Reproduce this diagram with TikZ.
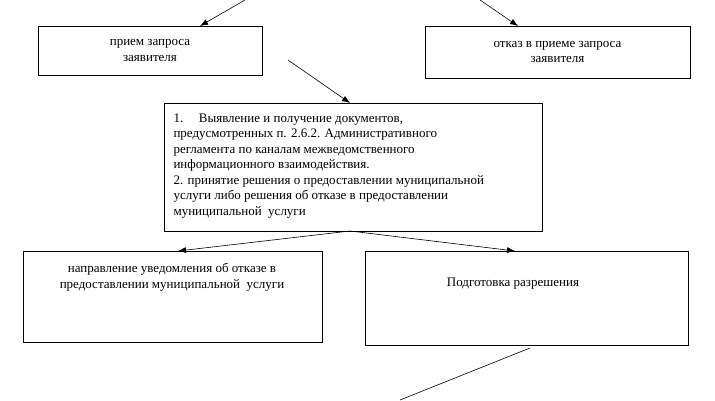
\documentclass[tikz,border=0pt]{standalone}
\usepackage{fontspec}
\setmainfont{Liberation Serif}
\usetikzlibrary{arrows.meta}
\begin{document}
\begin{tikzpicture}[x=1pt,y=-1pt,
  box/.style={draw,line width=0.8pt},
  lbl/.style={font=\fontsize{13}{15.5}\selectfont,align=center},
  arr/.style={-{Latex[length=8pt,width=6pt]},line width=0.6pt}]
\useasboundingbox (0,0) rectangle (715,400);
\draw[box] (38,26) rectangle (262,75) node[pos=.5,lbl] (a) {прием запроса\\заявителя};
\draw[box] (425,26) rectangle (690,78) node[pos=.5,lbl] (b) {отказ в приеме запроса\\заявителя};
\draw[box] (164,103) rectangle (542,231);
\node[lbl,align=left,anchor=north west] (c) at (170,110) {1.\hspace{1.2em}Выявление и получение документов,\\предусмотренных п. 2.6.2. Административного\\регламента по каналам межведомственного\\информационного взаимодействия.\\2. принятие решения о предоставлении муниципальной\\услуги либо решения об отказе в предоставлении\\муниципальной\ \ услуги};
\draw[box] (23,251) rectangle (322,342);
\node[lbl] (d) at (172,277) {направление уведомления об отказе в\\предоставлении муниципальной\ \ услуги};
\draw[box] (365,251) rectangle (688,345);
\node[lbl] (e) at (513,284) {Подготовка разрешения};
\coordinate (t1) at (245,0); \coordinate (t1e) at (200,26);
\coordinate (t2) at (480,0); \coordinate (t2e) at (518,26);
\draw[arr] (t1) -- (t1e);
\draw[arr] (t2) -- (t2e);
\coordinate (s1) at (288,60); \coordinate (s1e) at (350,103);
\draw[arr] (s1) -- (s1e);
\coordinate (s2) at (350,231); \coordinate (d2) at (178,251); \coordinate (e2) at (515,251);
\draw[arr] (s2) -- (d2);
\draw[arr] (s2) -- (e2);
\coordinate (b1) at (530,348); \coordinate (b2) at (400,400);
\draw[line width=0.6pt] (b1) -- (b2);
\end{tikzpicture}
\end{document}
